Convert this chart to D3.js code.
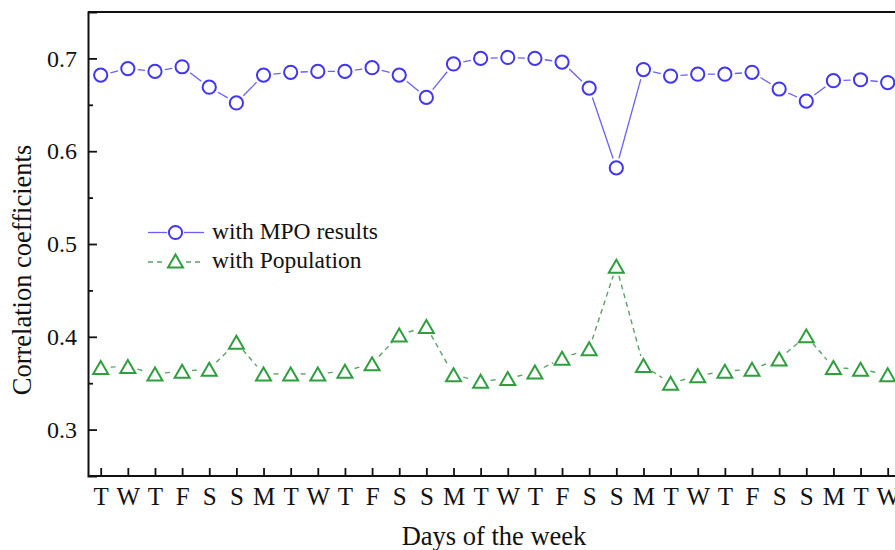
<!DOCTYPE html>
<html>
<head>
<meta charset="utf-8">
<script src="https://cdn.jsdelivr.net/npm/d3@7"></script>
<style>
  body { margin: 0; background: #fff; }
  svg { display: block; overflow: hidden; }
  text { font-family: "Liberation Serif", "Times New Roman", serif; fill: #111; }
</style>
</head>
<body>
<svg id="chart" width="895" height="550"></svg>
<script>
// Day labels along the x axis (30 days)
const days = ["T","W","T","F","S","S","M","T","W","T","F","S","S","M","T",
              "W","T","F","S","S","M","T","W","T","F","S","S","M","T","W"];

// Correlation with MPO results
const mpoValues = [0.682, 0.689, 0.686, 0.691, 0.669, 0.652, 0.682, 0.685, 0.686, 0.686,
                   0.690, 0.682, 0.658, 0.694, 0.700, 0.701, 0.700, 0.696, 0.668, 0.582,
                   0.688, 0.681, 0.683, 0.683, 0.685, 0.667, 0.654, 0.676, 0.677, 0.674];

// Correlation with population
const popValues = [0.367, 0.368, 0.360, 0.363, 0.365, 0.394, 0.360, 0.360, 0.360, 0.363,
                   0.371, 0.402, 0.411, 0.359, 0.352, 0.355, 0.362, 0.377, 0.387, 0.476,
                   0.369, 0.350, 0.358, 0.363, 0.365, 0.376, 0.401, 0.367, 0.365, 0.359];

const yTicks = [0.3, 0.4, 0.5, 0.6, 0.7];
const yMinorTicks = [0.35, 0.45, 0.55, 0.65];

const blue = "#4236f0";
const blueLine = "#6a62f2";
const green = "#2f9e3f";
const greenLine = "#5f9f6c";

const svg = d3.select("#chart");
const plotLeft = 88, plotTop = 12, plotBottom = 476, plotRight = 920;

const x = d3.scaleLinear().domain([0, days.length - 1]).range([100.7, 887.7]);
const y = d3.scaleLinear().domain([0.25, 0.75]).range([plotBottom, plotTop]);

// Draw line pieces between markers, leaving a gap around each marker (Origin style)
function gappedSegments(g, values, gap, color, width, dash) {
    const pairs = d3.range(values.length - 1).map(i => [i, i + 1]);
    g.selectAll("line")
        .data(pairs)
        .enter()
        .append("line")
        .each(function(p) {
            const x1 = x(p[0]), y1 = y(values[p[0]]);
            const x2 = x(p[1]), y2 = y(values[p[1]]);
            const len = Math.hypot(x2 - x1, y2 - y1);
            const ux = (x2 - x1) / len, uy = (y2 - y1) / len;
            d3.select(this)
                .attr("x1", x1 + ux * gap).attr("y1", y1 + uy * gap)
                .attr("x2", x2 - ux * gap).attr("y2", y2 - uy * gap);
        })
        .attr("stroke", color)
        .attr("stroke-width", width)
        .attr("stroke-dasharray", dash || null);
}

// triangle centred on its bounding box
function trianglePath(cx, cy, s) {
    const h = s * Math.sqrt(3) / 2;
    return `M${cx},${cy - h / 2}L${cx + s / 2},${cy + h / 2}L${cx - s / 2},${cy + h / 2}Z`;
}

// Series: population (dashed green, triangles)
gappedSegments(svg.append("g"), popValues, 10, greenLine, 1.4, "5,4");
svg.append("g").selectAll("path")
    .data(popValues)
    .enter()
    .append("path")
    .attr("d", (d, i) => trianglePath(x(i), y(d), 15))
    .attr("fill", "none")
    .attr("stroke", green)
    .attr("stroke-width", 2);

// Series: MPO results (solid blue, circles)
gappedSegments(svg.append("g"), mpoValues, 10, blueLine, 1.3);
svg.append("g").selectAll("circle")
    .data(mpoValues)
    .enter()
    .append("circle")
    .attr("cx", (d, i) => x(i))
    .attr("cy", d => y(d))
    .attr("r", 6.6)
    .attr("fill", "none")
    .attr("stroke", blue)
    .attr("stroke-width", 2);

// Frame top
svg.append("line")
    .attr("x1", plotLeft).attr("x2", plotRight)
    .attr("y1", plotTop).attr("y2", plotTop)
    .attr("stroke", "#111").attr("stroke-width", 2);

// Y axis
const yAxis = svg.append("g")
    .attr("transform", `translate(${plotLeft},0)`)
    .call(d3.axisLeft(y).tickValues(yTicks).tickFormat(d3.format(".1f"))
        .tickSize(-9).tickPadding(11));
yAxis.select(".domain").attr("stroke", "#111").attr("stroke-width", 2);
yAxis.selectAll(".tick line").attr("stroke", "#111").attr("stroke-width", 1.8);
yAxis.selectAll("text").style("font-size", "24px");

svg.append("g")
    .attr("transform", `translate(${plotLeft},0)`)
    .call(d3.axisLeft(y).tickValues(yMinorTicks).tickFormat("").tickSize(-5))
    .call(g => g.select(".domain").remove())
    .selectAll(".tick line").attr("stroke", "#111").attr("stroke-width", 1.8);

// X axis
const xAxis = svg.append("g")
    .attr("transform", `translate(0,${plotBottom})`)
    .call(d3.axisBottom(x).tickValues(d3.range(days.length))
        .tickFormat(i => days[i]).tickSize(-8).tickPadding(11));
xAxis.select(".domain").attr("d", `M${plotLeft},0H${plotRight}`)
    .attr("stroke", "#111").attr("stroke-width", 2);
xAxis.selectAll(".tick line").attr("stroke", "#111").attr("stroke-width", 1.8);
xAxis.selectAll("text").style("font-size", "25px");

// Axis titles
svg.append("text")
    .attr("transform", "translate(31,270) rotate(-90)")
    .attr("text-anchor", "middle")
    .style("font-size", "26.5px")
    .text("Correlation coefficients");

svg.append("text")
    .attr("x", 494).attr("y", 545)
    .attr("text-anchor", "middle")
    .style("font-size", "26.5px")
    .text("Days of the week");

// Legend
const legend = svg.append("g");
legend.append("line")
    .attr("x1", 148).attr("x2", 167).attr("y1", 232.5).attr("y2", 232.5)
    .attr("stroke", blueLine).attr("stroke-width", 1.3);
legend.append("line")
    .attr("x1", 184).attr("x2", 204).attr("y1", 232.5).attr("y2", 232.5)
    .attr("stroke", blueLine).attr("stroke-width", 1.3);
legend.append("circle")
    .attr("cx", 175.5).attr("cy", 232.5).attr("r", 6.6)
    .attr("fill", "none").attr("stroke", blue).attr("stroke-width", 2);
legend.append("text")
    .attr("x", 212).attr("y", 239)
    .style("font-size", "23.5px")
    .text("with MPO results");

legend.append("line")
    .attr("x1", 148).attr("x2", 166).attr("y1", 262).attr("y2", 262)
    .attr("stroke", greenLine).attr("stroke-width", 1.4).attr("stroke-dasharray", "5,4");
legend.append("line")
    .attr("x1", 186).attr("x2", 204).attr("y1", 262).attr("y2", 262)
    .attr("stroke", greenLine).attr("stroke-width", 1.4).attr("stroke-dasharray", "5,4");
legend.append("path")
    .attr("d", trianglePath(175.5, 261, 15))
    .attr("fill", "none").attr("stroke", green).attr("stroke-width", 2);
legend.append("text")
    .attr("x", 212).attr("y", 268)
    .style("font-size", "23.5px")
    .text("with Population");
</script>
</body>
</html>
